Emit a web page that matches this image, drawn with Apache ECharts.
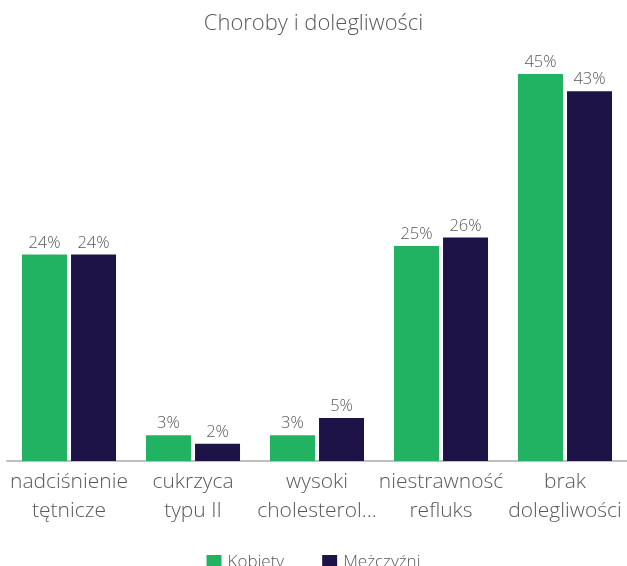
<!DOCTYPE html>
<html>
<head>
<meta charset="utf-8">
<style>
  html, body { margin: 0; padding: 0; background: #fff; }
  #chart { width: 627px; height: 566px; }
</style>
<script src="https://cdn.jsdelivr.net/npm/echarts@6/dist/echarts.min.js"></script>
</head>
<body>
<div id="chart"></div>
<script>
// Chart data
const categories = [
  'nadciśnienie\ntętnicze',
  'cukrzyca\ntypu II',
  'wysoki\ncholesterol…',
  'niestrawność\nrefluks',
  'brak\ndolegliwości'
];
const kobiety = [24, 3, 3, 25, 45];
const mezczyzni = [24, 2, 5, 26, 43];
const seriesNames = ['Kobiety', 'Mężczyźni'];

const FONT = '"Open Sans", "Noto Sans", sans-serif';
const TEXT = '#595959';

const chart = echarts.init(document.getElementById('chart'), null, { renderer: 'canvas' });

const labelStyle = {
  show: true,
  position: 'top',
  distance: 3,
  formatter: p => p.value + '%',
  color: TEXT,
  fontFamily: FONT,
  fontWeight: 300,
  fontSize: 16.5
};

chart.setOption({
  animation: false,
  title: {
    text: 'Choroby i dolegliwości',
    left: 'center',
    top: 8,
    textStyle: { color: TEXT, fontFamily: FONT, fontWeight: 300, fontSize: 22 }
  },
  legend: {
    data: seriesNames,
    top: 549,
    left: 'center',
    itemWidth: 15,
    itemHeight: 15,
    itemGap: 38,
    icon: 'rect',
    textStyle: { color: TEXT, fontFamily: FONT, fontWeight: 300, fontSize: 17, padding: [0, 0, 0, 1] }
  },
  grid: { left: 7, right: 0, top: 31, bottom: 105, containLabel: false },
  xAxis: {
    type: 'category',
    data: categories,
    axisLine: { lineStyle: { color: '#bfbfbf', width: 2 } },
    axisTick: { show: false },
    axisLabel: {
      color: TEXT,
      fontFamily: FONT,
      fontWeight: 300,
      fontSize: 21,
      lineHeight: 29,
      margin: 7,
      interval: 0
    }
  },
  yAxis: {
    type: 'value',
    min: 0,
    max: 50,
    show: false,
    splitLine: { show: false }
  },
  series: [
    {
      name: seriesNames[0],
      type: 'bar',
      data: kobiety,
      barWidth: 45,
      barGap: '9%',
      itemStyle: { color: '#21b262' },
      label: labelStyle
    },
    {
      name: seriesNames[1],
      type: 'bar',
      data: mezczyzni,
      barWidth: 45,
      barGap: '9%',
      itemStyle: { color: '#1e1346' },
      label: labelStyle
    }
  ]
});
</script>
</body>
</html>
